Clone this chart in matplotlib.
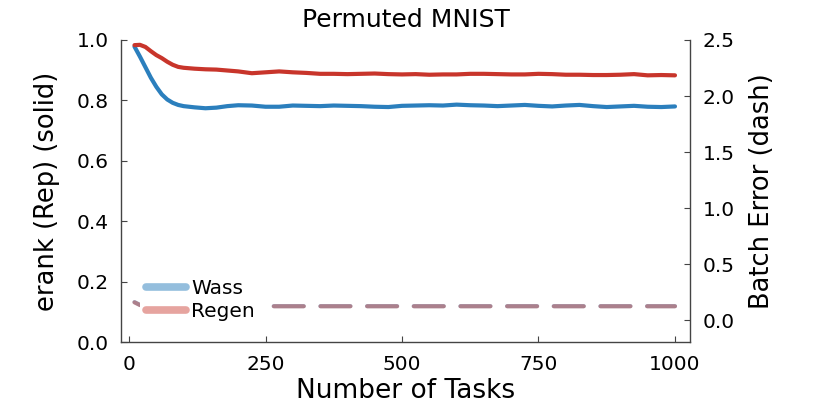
import numpy as np
import matplotlib
matplotlib.use("Agg")
import matplotlib.pyplot as plt

# tasks at which the curves were sampled
tasks = [10, 20, 30, 40, 50, 60, 70, 80, 90, 100, 120, 140, 160, 180, 200,
         225, 250, 275, 300, 325, 350, 375, 400, 425, 450, 475, 500, 525, 550,
         575, 600, 625, 650, 675, 700, 725, 750, 775, 800, 825, 850, 875, 900,
         925, 950, 975, 1000]

# effective rank of representation (left axis, solid)
erank_wass = [0.978, 0.945, 0.910, 0.875, 0.845, 0.820, 0.803, 0.792, 0.785, 0.781,
              0.777, 0.774, 0.776, 0.781, 0.784, 0.783, 0.779, 0.779, 0.783, 0.782,
              0.781, 0.783, 0.782, 0.781, 0.779, 0.778, 0.782, 0.783, 0.784, 0.783,
              0.786, 0.784, 0.783, 0.781, 0.783, 0.785, 0.782, 0.780, 0.783, 0.785,
              0.781, 0.778, 0.780, 0.782, 0.779, 0.778, 0.780]
erank_regen = [0.983, 0.984, 0.977, 0.963, 0.950, 0.940, 0.928, 0.918, 0.911, 0.908,
               0.905, 0.903, 0.902, 0.899, 0.896, 0.890, 0.893, 0.896, 0.893, 0.891,
               0.888, 0.888, 0.887, 0.888, 0.889, 0.887, 0.886, 0.887, 0.885, 0.886,
               0.886, 0.888, 0.888, 0.887, 0.886, 0.886, 0.888, 0.887, 0.885, 0.885,
               0.884, 0.884, 0.885, 0.887, 0.883, 0.884, 0.883]

# batch error (right axis, dashed)
err_wass = [0.160, 0.135, 0.128, 0.126, 0.125, 0.125, 0.124, 0.124, 0.124, 0.124,
            0.124, 0.124, 0.124, 0.124, 0.124, 0.124, 0.124, 0.124, 0.124, 0.124,
            0.124, 0.124, 0.124, 0.124, 0.124, 0.124, 0.124, 0.124, 0.124, 0.124,
            0.124, 0.124, 0.124, 0.124, 0.124, 0.124, 0.124, 0.124, 0.124, 0.124,
            0.124, 0.124, 0.124, 0.124, 0.124, 0.124, 0.124]
err_regen = [0.158, 0.134, 0.127, 0.125, 0.124, 0.124, 0.123, 0.123, 0.123, 0.123,
             0.123, 0.123, 0.123, 0.123, 0.123, 0.123, 0.123, 0.123, 0.123, 0.123,
             0.123, 0.123, 0.123, 0.123, 0.123, 0.123, 0.123, 0.123, 0.123, 0.123,
             0.123, 0.123, 0.123, 0.123, 0.123, 0.123, 0.123, 0.123, 0.123, 0.123,
             0.123, 0.123, 0.123, 0.123, 0.123, 0.123, 0.123]

blue = "#2b7fbd"
red = "#c8352b"
spine_col = "#444444"

fig = plt.figure(figsize=(8.14, 4.07), dpi=100)
ax = fig.add_axes([121 / 814, 65 / 407, 569 / 814, 302 / 407])
ax2 = ax.twinx()

ax.plot(tasks, erank_wass, color=blue, lw=3, solid_capstyle="round")
ax.plot(tasks, erank_regen, color=red, lw=3, solid_capstyle="round")

ax2.plot(tasks, err_wass, color=blue, alpha=0.5, lw=3, dashes=(7.2, 4.0),
         dash_capstyle="round", label="Wass")
ax2.plot(tasks, err_regen, color=red, alpha=0.45, lw=3, dashes=(7.2, 4.0),
         dash_capstyle="round", label="Regen")

ax.set_xlim(-14.7, 1027.5)
ax.set_ylim(0, 1.0)
ax2.set_ylim(-0.196, 2.5)
ax.set_xticks([0, 250, 500, 750, 1000])
ax.set_yticks([0.0, 0.2, 0.4, 0.6, 0.8, 1.0])
ax2.set_yticks([0.0, 0.5, 1.0, 1.5, 2.0, 2.5])
ax.yaxis.set_major_formatter(matplotlib.ticker.FormatStrFormatter("%.1f"))
ax2.yaxis.set_major_formatter(matplotlib.ticker.FormatStrFormatter("%.1f"))

for a in (ax, ax2):
    a.spines["top"].set_visible(False)
    for s in a.spines.values():
        s.set_color(spine_col)
        s.set_linewidth(1)
    a.tick_params(direction="in", length=4, width=0.8, color=spine_col,
                  labelsize=14.5, pad=9)
ax.spines["right"].set_visible(False)
ax2.spines["left"].set_visible(False)
ax2.spines["bottom"].set_visible(False)

ax.set_xlabel("Number of Tasks", fontsize=19, labelpad=3)
ax.set_ylabel("erank (Rep) (solid)", fontsize=18.5, labelpad=12)
ax2.set_ylabel("Batch Error (dash)", fontsize=18.5, labelpad=10)
ax.set_title("Permuted MNIST", fontsize=18, pad=9)

leg = ax2.legend(loc="lower left", bbox_to_anchor=(0.022, 0.028), fontsize=14.5,
                 frameon=True, facecolor="white", edgecolor="none", framealpha=1,
                 handlelength=2.0, handletextpad=0.25, labelspacing=0.2,
                 borderpad=0.3, borderaxespad=0.3, fancybox=False)
for line in leg.get_lines():
    line.set_linestyle("-")
    line.set_linewidth(5.5)
    line.set_solid_capstyle("round")

fig.savefig("out.png", dpi=100)
